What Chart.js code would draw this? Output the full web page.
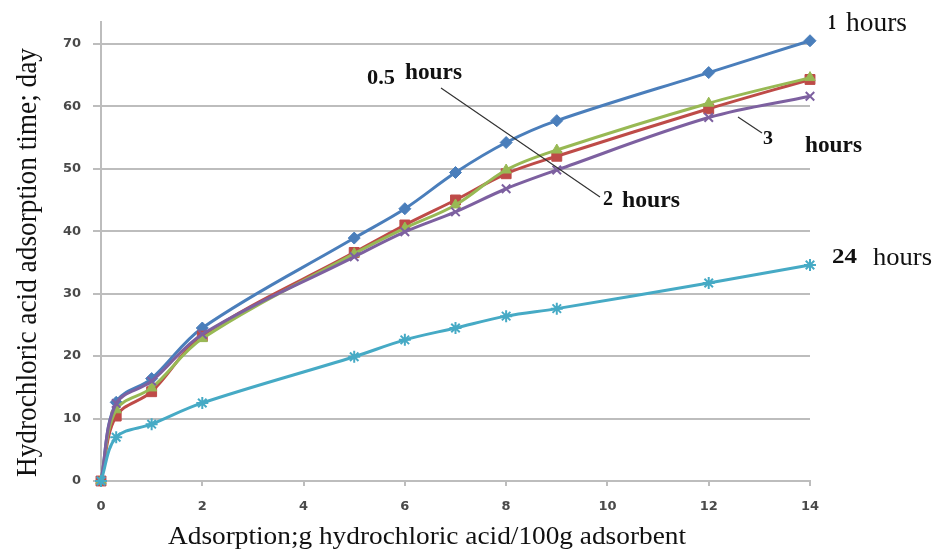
<!DOCTYPE html>
<html>
<head>
<meta charset="utf-8">
<script src="https://cdn.jsdelivr.net/npm/chart.js@4.4.1/dist/chart.umd.min.js"></script>
<style>
  html,body{margin:0;padding:0;background:#fff}
  #wrap{width:935px;height:549px;position:relative}
</style>
</head>
<body>
<div id="wrap"><canvas id="chart"></canvas></div>
<script>
// ---- data ----
const adsorption=[0,0.3,1,2,5,6,7,8,9,12,14];
const hours1 =[0,12.6,16.4,24.5,38.9,43.6,49.4,54.2,57.7,65.4,70.5];
const hours05=[0,10.4,14.3,23.2,36.6,41.0,45.0,49.2,52.0,59.6,64.3];
const hours2 =[0,11.4,14.9,22.8,36.4,40.5,44.2,49.8,53.0,60.5,64.6];
const hours3 =[0,12.4,16.0,23.5,35.9,39.9,43.1,46.8,49.8,58.2,61.6];
const hours24=[0,7.0,9.1,12.5,19.9,22.6,24.5,26.4,27.6,31.7,34.6];
const seriesNames=['1 hours','0.5 hours','2 hours','3 hours','24 hours'];
const xTicks=[0,2,4,6,8,10,12,14];
const yTicks=[0,10,20,30,40,50,60,70];
const xTitle='Adsorption;g hydrochloric acid/100g adsorbent';
const yTitle='Hydrochloric acid adsorption time; day';

const SERIF='"Liberation Serif","Times New Roman",serif';
const GRID='#bdbdbd';

// text squeezed/stretched to the width it has in the picture
function fitText(ctx,str,font,x,y,w,rot){
  ctx.save();
  ctx.font=font;ctx.textAlign='left';ctx.textBaseline='alphabetic';ctx.fillStyle='#111';
  ctx.translate(x,y);
  if(rot)ctx.rotate(rot);
  const m=ctx.measureText(str).width;
  ctx.scale(w/m,1);
  ctx.fillText(str,0,0);
  ctx.restore();
}

// series labels + leader lines, as placed in the original figure
const notes=[
  ['1','bold 20px '+SERIF,828,29,8],
  ['hours','27px '+SERIF,846,31,61],
  ['0.5','bold 20px '+SERIF,367,84,28],
  ['hours','bold 23px '+SERIF,405,79,57],
  ['2','bold 21px '+SERIF,603,205,10],
  ['hours','bold 23px '+SERIF,622,207,58],
  ['3','bold 19px '+SERIF,763,144,10],
  ['hours','bold 23px '+SERIF,805,152,57],
  ['24','bold 21px '+SERIF,832,263,25],
  ['hours','26px '+SERIF,873,265,59],
];

const annotate={
  id:'annotate',
  afterDraw(chart){
    const ctx=chart.ctx;
    ctx.save();
    ctx.strokeStyle='#333';ctx.lineWidth=1.2;
    ctx.beginPath();
    ctx.moveTo(441,88);ctx.lineTo(600,197);
    ctx.moveTo(738,117);ctx.lineTo(762,133);
    ctx.stroke();
    ctx.restore();
    notes.forEach(n=>fitText(ctx,n[0],n[1],n[2],n[3],n[4]));
    fitText(ctx,xTitle,'25px '+SERIF,168,544,518);
    fitText(ctx,yTitle,'30px '+SERIF,36,477,429,-Math.PI/2);
  }
};

const colors=['#4a7ebb','#be4b48','#98b954','#7d60a0','#46aac5'];
const styles=['rectRot','rect','triangle','crossRot','star'];
const radii=[6,7,6,6,6];
const values=[hours1,hours05,hours2,hours3,hours24];

const datasets=values.map((vals,i)=>({
  label:seriesNames[i],
  data:vals.map((v,j)=>({x:adsorption[j],y:v})),
  borderColor:colors[i],
  backgroundColor:colors[i],
  borderWidth:3,
  pointStyle:styles[i],
  pointRadius:radii[i],
  pointBorderWidth:(i>=3)?2:1,
  pointBorderColor:colors[i],
  pointBackgroundColor:colors[i],
  tension:0.35,
  fill:false,
  clip:false,
  order:5-i
}));

const tickFont={family:'"DejaVu Sans",Verdana,sans-serif',size:13,weight:'bold'};

new Chart(document.getElementById('chart').getContext('2d'),{
  type:'line',
  data:{datasets},
  options:{
    responsive:true,maintainAspectRatio:false,animation:false,
    layout:{padding:{top:22,right:125,bottom:0,left:0}},
    plugins:{legend:{display:false},tooltip:{enabled:false}},
    scales:{
      x:{type:'linear',min:0,max:14,
        afterBuildTicks:s=>{s.ticks=xTicks.map(v=>({value:v}));},
        afterFit:s=>{s.height=68;},
        grid:{drawOnChartArea:false,color:GRID,lineWidth:2,tickLength:5},
        border:{color:GRID,width:2},
        ticks:{color:'#4a4a4a',font:tickFont,padding:13,maxRotation:0}},
      y:{type:'linear',min:0,max:73.5,
        afterBuildTicks:s=>{s.ticks=yTicks.map(v=>({value:v}));},
        afterFit:s=>{s.width=101;},
        grid:{color:GRID,lineWidth:2,tickLength:8},
        border:{color:GRID,width:2},
        ticks:{color:'#4a4a4a',font:tickFont,padding:12}}
    }
  },
  plugins:[annotate]
});
</script>
</body>
</html>
